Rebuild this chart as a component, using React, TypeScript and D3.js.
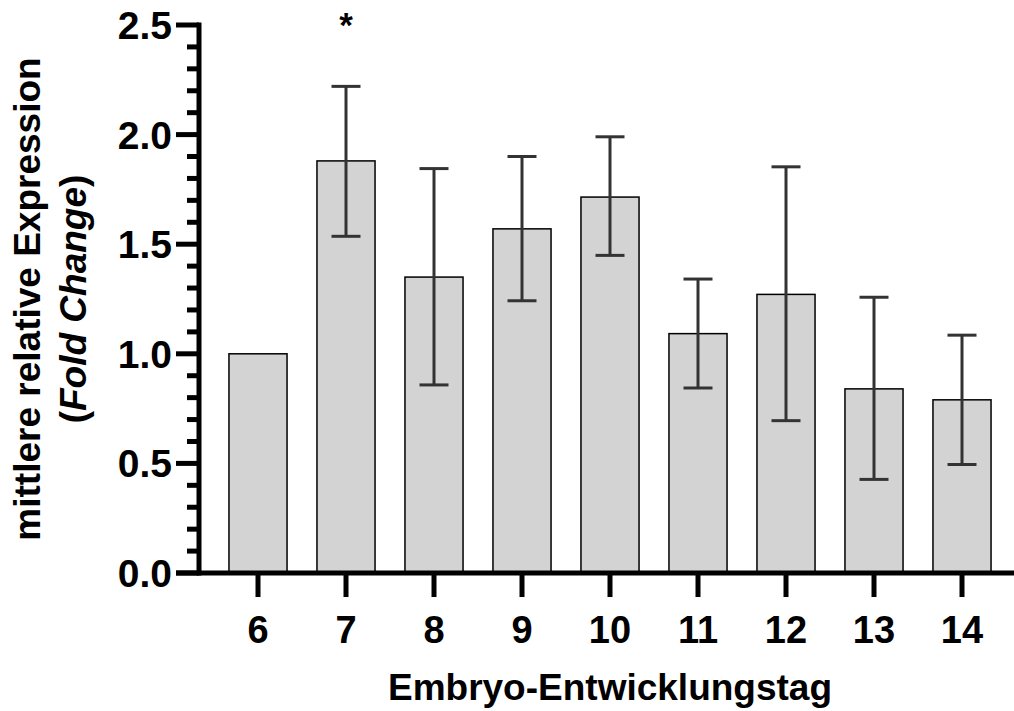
import React from "react";
import * as d3 from "d3";

// days on x axis
const days = ["6", "7", "8", "9", "10", "11", "12", "13", "14"];
// mean fold change per day
const means = [1.0, 1.88, 1.35, 1.57, 1.715, 1.092, 1.271, 0.84, 0.79];
// upper / lower end of error bar
const upper = [1.0, 2.22, 1.845, 1.9, 1.99, 1.341, 1.853, 1.258, 1.085];
const lower = [1.0, 1.536, 0.858, 1.242, 1.449, 0.844, 0.695, 0.427, 0.495];
// significance markers
const marks = ["", "*", "", "", "", "", "", "", ""];
const yMajor = [0, 0.5, 1.0, 1.5, 2.0, 2.5];

const font = "'Liberation Sans', Arial, Helvetica, sans-serif";

export default function App() {
  const width = 1014, height = 711;
  const axisX = 199, axisY = 573;

  const x = d3.scaleBand<string>().domain(days).range([214, 1006]).paddingInner(0.34).paddingOuter(0.17);
  const y = d3.scaleLinear().domain([0, 2.5]).range([axisY, 25]);

  const minor = d3.range(0, 26).map(i => i / 10).filter(v => Math.round(v * 10) % 5 !== 0);
  const bw = x.bandwidth();
  const capW = 29;

  return (
    <svg width={width} height={height} style={{ position: "absolute", left: 0, top: 0, background: "#fff" }}
         fontFamily={font}>
      {/* bars */}
      {days.map((d, i) => (
        <rect key={"b" + d} x={x(d)} y={y(means[i])} width={bw} height={axisY - y(means[i])}
              fill="#d3d3d3" stroke="#000" strokeWidth={1.5} />
      ))}
      {/* error bars */}
      {days.map((d, i) => {
        if (upper[i] === lower[i]) return null;
        const cx = (x(d) as number) + bw / 2;
        return (
          <g key={"e" + d} stroke="#333" strokeWidth={3}>
            <line x1={cx} x2={cx} y1={y(upper[i])} y2={y(lower[i])} />
            <line x1={cx - capW / 2} x2={cx + capW / 2} y1={y(upper[i])} y2={y(upper[i])} />
            <line x1={cx - capW / 2} x2={cx + capW / 2} y1={y(lower[i])} y2={y(lower[i])} />
          </g>
        );
      })}
      {/* significance */}
      {days.map((d, i) => marks[i] ? (
        <text key={"m" + d} x={(x(d) as number) + bw / 2} y={37} textAnchor="middle" fontSize={35}
              fontWeight="bold">{marks[i]}</text>
      ) : null)}

      {/* y axis */}
      <line x1={axisX} x2={axisX} y1={y(2.5) - 2.5} y2={axisY + 2.5} stroke="#000" strokeWidth={5} />
      {yMajor.map(v => (
        <g key={"ym" + v}>
          <line x1={176} x2={axisX} y1={y(v)} y2={y(v)} stroke="#000" strokeWidth={5} />
          <text x={172} y={y(v)} dy="0.36em" textAnchor="end" fontSize={39} fontWeight="bold">{d3.format(".1f")(v)}</text>
        </g>
      ))}
      {minor.map(v => (
        <line key={"yn" + v} x1={187} x2={axisX} y1={y(v)} y2={y(v)} stroke="#000" strokeWidth={5} />
      ))}

      {/* x axis */}
      <line x1={176} x2={width} y1={axisY} y2={axisY} stroke="#000" strokeWidth={5} />
      {days.map(d => {
        const cx = (x(d) as number) + bw / 2;
        return (
          <g key={"xt" + d}>
            <line x1={cx} x2={cx} y1={axisY} y2={597} stroke="#000" strokeWidth={5} />
            <text x={cx} y={643} textAnchor="middle" fontSize={38} fontWeight="bold">{d}</text>
          </g>
        );
      })}

      {/* titles */}
      <text x={(x("6") as number + (x("14") as number) + bw) / 2} y={700} textAnchor="middle" fontSize={37}
            fontWeight="bold">Embryo-Entwicklungstag</text>
      <g transform={`translate(40, ${(y(0) + y(2.5)) / 2}) rotate(-90)`}>
        <text x={0} y={0} textAnchor="middle" fontSize={37} fontWeight="bold">mittlere relative Expression</text>
        <text x={0} y={46} textAnchor="middle" fontSize={37} fontWeight="bold">
          (<tspan fontStyle="italic">Fold Change</tspan>)
        </text>
      </g>
    </svg>
  );
}
